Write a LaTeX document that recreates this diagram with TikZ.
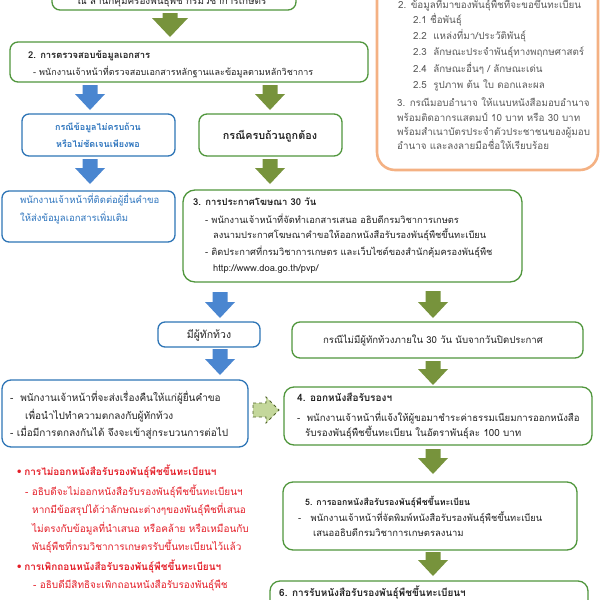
\documentclass[tikz,border=0pt]{standalone}
\usepackage{fontspec}
\newfontfamily\thai[Script=Thai]{Loma}
\newfontfamily\dvs{DejaVu Sans}
\definecolor{gline}{RGB}{80,150,60}
\definecolor{garrow}{RGB}{119,147,60}
\definecolor{bline}{RGB}{46,117,182}
\definecolor{barrow}{RGB}{74,134,208}
\definecolor{btext}{RGB}{46,117,190}
\definecolor{oline}{RGB}{244,177,131}
\definecolor{otext}{RGB}{90,90,90}
\definecolor{dtext}{RGB}{35,35,35}
\definecolor{rtext}{RGB}{228,30,40}
\definecolor{lgreen}{RGB}{196,215,155}
\definecolor{dgreen}{RGB}{79,98,40}
\newcommand\dnarrow[7]{%
  \fill[#1] (#2-#5,#3) -- (#2+#5,#3) -- (#2+#5,#4-#7) -- (#2+#6,#4-#7) -- (#2,#4)
    -- (#2-#6,#4-#7) -- (#2-#5,#4-#7) -- cycle;}
\tikzset{
  gbox/.style={draw=gline, line width=1.3pt, rounded corners=8pt, fill=white, inner sep=0pt},
  bbox/.style={draw=bline, line width=1.3pt, rounded corners=7pt, fill=white, inner sep=0pt},
  obox/.style={draw=oline, line width=2.6pt, rounded corners=18pt, fill=white, inner sep=0pt},
  sz/.style={font=\thai\fontsize{#1}{#1}\selectfont},
  bsz/.style={font=\thai\bfseries\fontsize{#1}{#1}\selectfont},
  txt/.style={inner sep=0pt, anchor=base west, text=dtext, sz=9},
  ttl/.style={txt, bsz=9},
  ctxt/.style={txt, anchor=base},
  ctl/.style={ttl, anchor=base},
  otx/.style={txt, text=otext, sz=9.8},
  btx/.style={txt, text=btext, sz=9.5},
  btl/.style={ttl, anchor=base, text=btext},
  rtx/.style={txt, text=rtext, sz=10},
  rtl/.style={ttl, text=rtext, bsz=10},
}
\begin{document}
\begin{tikzpicture}[x=1pt,y=-1pt]
\useasboundingbox (0,0) rectangle (600,600);
\clip (0,0) rectangle (600,600);
% boxes
\node[gbox, minimum width=244pt, minimum height=40pt] (b1) at (174,-10) {};
\node[obox, minimum width=221pt, minimum height=190pt] (ob) at (487.5,75) {};
\node[gbox, minimum width=358pt, minimum height=40pt] (b2) at (189,62) {};
\node[bbox, minimum width=153pt, minimum height=42pt] (bl1) at (98.5,135) {};
\node[gbox, minimum width=143pt, minimum height=42pt] (g1) at (270.5,135) {};
\node[bbox, minimum width=173pt, minimum height=51pt] (bl2) at (88.5,216.5) {};
\node[gbox, rounded corners=12pt, minimum width=339pt, minimum height=92pt] (b3) at (352.5,236) {};
\node[bbox, minimum width=102pt, minimum height=25pt] (bl3) at (209,334.5) {};
\node[gbox, minimum width=291pt, minimum height=36pt] (g2) at (437.5,340) {};
\node[bbox, rounded corners=9pt, minimum width=246pt, minimum height=67pt] (bl4) at (125,413.5) {};
\node[gbox, rounded corners=10pt, minimum width=308pt, minimum height=58pt] (b4) at (438,416) {};
\node[gbox, rounded corners=10pt, minimum width=294pt, minimum height=68pt] (b5) at (430,516) {};
\node[gbox, rounded corners=10pt, minimum width=318pt, minimum height=59pt] (b6) at (429,610.5) {};
% arrows
\dnarrow{garrow}{170}{13}{37}{7.5}{18}{19}
\dnarrow{barrow}{90}{85}{110}{7.5}{15}{16}
\dnarrow{garrow}{270}{85}{110}{7.5}{15}{16}
\dnarrow{barrow}{90}{159}{184}{7.5}{15}{16}
\dnarrow{garrow}{270}{159}{184}{7.5}{15}{16}
\dnarrow{barrow}{220}{292}{318}{7.5}{15}{16}
\dnarrow{garrow}{433}{291}{318}{7.5}{15}{16}
\dnarrow{barrow}{220}{349}{375}{7.5}{15}{16}
\dnarrow{garrow}{433}{361}{385}{7.5}{15}{16}
\dnarrow{garrow}{433}{449}{474}{7.5}{15}{16}
\dnarrow{garrow}{433}{552}{576}{7.5}{15}{16}
\draw[dashed, line width=0.8pt, draw=dgreen, fill=lgreen] (253,403) -- (266,403) -- (266,397) -- (279,410) -- (266,423) -- (266,417) -- (253,417) -- cycle;
% texts
\node[ctxt, sz=9.9] (t1) at (172,4) {ณ สำนักคุ้มครองพันธุ์พืช กรมวิชาการเกษตร};
\node[otx] (o1) at (398,8) {2. ข้อมูลที่มาของพันธุ์พืชที่จะขอขึ้นทะเบียน};
\node[otx] (o2) at (413,23) {2.1 ชื่อพันธุ์};
\node[otx] (o3) at (413,39) {2.2~~แหล่งที่มา/ประวัติพันธุ์};
\node[otx] (o4) at (413,55) {2.3~~ลักษณะประจำพันธุ์ทางพฤกษศาสตร์};
\node[otx] (o5) at (413,72) {2.4~~ลักษณะอื่นๆ / ลักษณะเด่น};
\node[otx] (o6) at (413,88) {2.5~~รูปภาพ ต้น ใบ ดอกและผล};
\node[otx] (o7) at (397,106) {3. กรณีมอบอำนาจ ให้แนบหนังสือมอบอำนาจ};
\node[otx] (o8) at (397,121) {พร้อมติดอากรแสตมป์ 10 บาท หรือ 30 บาท};
\node[otx] (o9) at (397,135) {พร้อมสำเนาบัตรประจำตัวประชาชนของผู้มอบ};
\node[otx] (o10) at (397,149) {อำนาจ และลงลายมือชื่อให้เรียบร้อย};
\node[ttl, bsz=9.4] (t2a) at (28,58) {2. การตรวจสอบข้อมูลเอกสาร};
\node[txt] (t2b) at (33,75) {- พนักงานเจ้าหน้าที่ตรวจสอบเอกสารหลักฐานและข้อมูลตามหลักวิชาการ};
\node[btl] (tb1a) at (98,130) {กรณีข้อมูลไม่ครบถ้วน};
\node[btl] (tb1b) at (98,147) {หรือไม่ชัดเจนเพียงพอ};
\node[ctl, bsz=10.8] (tg1) at (270,139) {กรณีครบถ้วนถูกต้อง};
\node[btx] (tb2a) at (20,203) {พนักงานเจ้าหน้าที่ติดต่อผู้ยื่นคำขอ};
\node[btx] (tb2b) at (20,221) {ให้ส่งข้อมูลเอกสารเพิ่มเติม};
\node[ttl, bsz=9.5] (t3a) at (193,205) {3. การประกาศโฆษณา 30 วัน};
\node[txt, sz=9.3] (t3b) at (205,223) {- พนักงานเจ้าหน้าที่จัดทำเอกสารเสนอ อธิบดีกรมวิชาการเกษตร};
\node[txt, sz=9.3] (t3c) at (213,238) {ลงนามประกาศโฆษณาคำขอให้ออกหนังสือรับรองพันธุ์พืชขึ้นทะเบียน};
\node[txt, sz=9.3] (t3d) at (205,255) {- ติดประกาศที่กรมวิชาการเกษตร และเว็บไซต์ของสำนักคุ้มครองพันธุ์พืช};
\node[txt, sz=9.3] (t3e) at (213,271) {http://www.doa.go.th/pvp/};
\node[ctxt, sz=10.5] (tb3) at (209,338) {มีผู้ทักท้วง};
\node[ctxt, sz=9.6] (tg2) at (433,343) {กรณีไม่มีผู้ทักท้วงภายใน 30 วัน นับจากวันปิดประกาศ};
\node[txt, sz=10] (tb4a) at (10,401) {-~~พนักงานเจ้าหน้าที่จะส่งเรื่องคืนให้แก่ผู้ยื่นคำขอ};
\node[txt, sz=10] (tb4b) at (25,419) {เพื่อนำไปทำความตกลงกับผู้ทักท้วง};
\node[txt, sz=10] (tb4c) at (10,436) {- เมื่อมีการตกลงกันได้ จึงจะเข้าสู่กระบวนการต่อไป};
\node[ttl, bsz=10] (t4a) at (297,401) {4. ออกหนังสือรับรองฯ};
\node[txt, sz=9.6] (t4b) at (297,421) {-~~พนักงานเจ้าหน้าที่แจ้งให้ผู้ขอมาชำระค่าธรรมเนียมการออกหนังสือ};
\node[txt, sz=9.8] (t4c) at (305,436) {รับรองพันธุ์พืชขึ้นทะเบียน ในอัตราพันธุ์ละ 100 บาท};
\node[ttl, bsz=8.8] (t5a) at (305,505) {5. การออกหนังสือรับรองพันธุ์พืชขึ้นทะเบียน};
\node[txt, sz=9.3] (t5b) at (298,521) {-~~~พนักงานเจ้าหน้าที่จัดพิมพ์หนังสือรับรองพันธุ์พืชขึ้นทะเบียน};
\node[txt, sz=9.5] (t5c) at (313,536) {เสนออธิบดีกรมวิชาการเกษตรลงนาม};
\node[ttl, bsz=10] (t6a) at (279,596) {6. การรับหนังสือรับรองพันธุ์พืชขึ้นทะเบียนฯ};
\node[rtl] (r1) at (16,475) {{\dvs •}\,การไม่ออกหนังสือรับรองพันธุ์พืชขึ้นทะเบียนฯ};
\node[rtx] (r2) at (25,495) {- อธิบดีจะไม่ออกหนังสือรับรองพันธุ์พืชขึ้นทะเบียนฯ};
\node[rtx] (r3) at (32,513) {หากมีข้อสรุปได้ว่าลักษณะต่างๆของพันธุ์พืชที่เสนอ};
\node[rtx] (r4) at (32,532) {ไม่ตรงกับข้อมูลที่นำเสนอ หรือคล้าย หรือเหมือนกับ};
\node[rtx] (r5) at (32,550) {พันธุ์พืชที่กรมวิชาการเกษตรรับขึ้นทะเบียนไว้แล้ว};
\node[rtl] (r6) at (16,570) {{\dvs •}\,การเพิกถอนหนังสือรับรองพันธุ์พืชขึ้นทะเบียนฯ};
\node[rtx] (r7) at (33,588) {- อธิบดีมีสิทธิจะเพิกถอนหนังสือรับรองพันธุ์พืช};
\end{tikzpicture}
\end{document}
